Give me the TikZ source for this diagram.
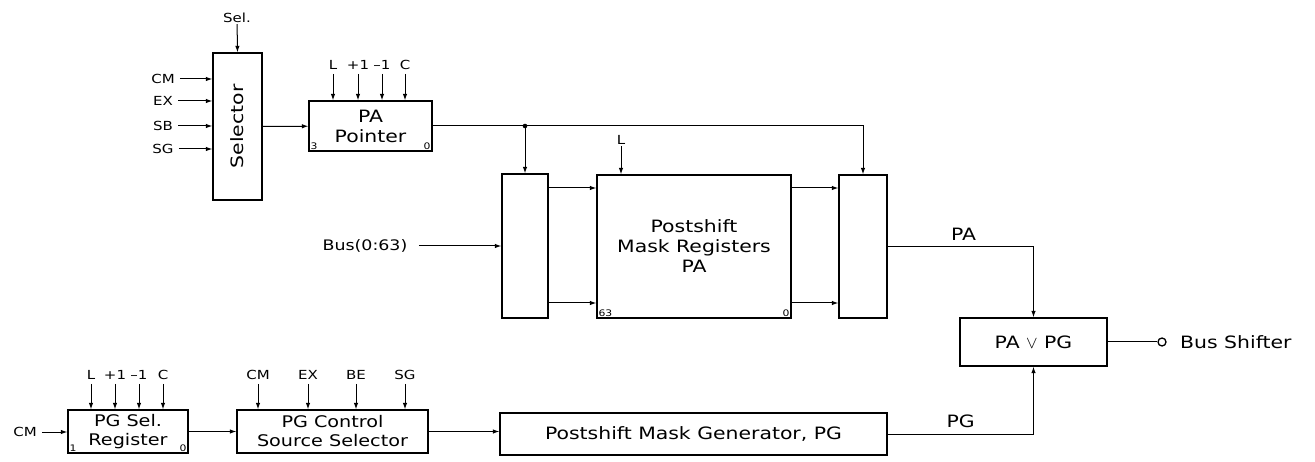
\documentclass[tikz,border=0pt]{standalone}
\usepackage{fontspec}
\setmainfont{DejaVu Sans}[FakeStretch=1.2]
\usetikzlibrary{arrows.meta,positioning,calc}
\begin{document}
\begin{tikzpicture}[x=1pt,y=-1pt,font=\fontsize{17}{20}\selectfont,
  box/.style={draw=black,line width=1.3pt,inner sep=0pt,align=center,fill=white},
  lbl/.style={font=\fontsize{12.5}{15}\selectfont,inner sep=1pt},
  tiny/.style={font=\fontsize{9}{10}\selectfont,inner sep=2pt},
  ar/.style={-{Latex[length=6.5pt,width=4.5pt]},line width=1pt},
  ln/.style={line width=1pt}]
 \useasboundingbox (0,0) rectangle (1315,462);
 \node[box,minimum width=49pt,minimum height=147pt] (sel) at (237.5,126.5) {\rotatebox{90}{Selector}};
 \node[box,minimum width=123pt,minimum height=50pt] (ptr) at (370.5,126) {PA\\Pointer};
 \node[tiny,anchor=south west] (p3) at (ptr.south west) {3};
 \node[tiny,anchor=south east] (p0) at (ptr.south east) {0};
 \node[box,minimum width=46pt,minimum height=144pt] (lmux) at (525,246) {};
 \node[box,minimum width=194pt,minimum height=143pt] (main) at (694,246.5) {Postshift\\Mask Registers\\PA};
 \node[tiny,anchor=south west] (m63) at (main.south west) {63};
 \node[tiny,anchor=south east] (m0) at (main.south east) {0};
 \node[box,minimum width=48pt,minimum height=143pt] (rmux) at (863,246.5) {};
 \node[box,minimum width=147pt,minimum height=48pt] (or) at (1033.5,342) {PA $\vee$ PG};
 \node[circle,draw,line width=1.3pt,inner sep=0pt,minimum size=8pt] (bs) at (1162,342) {};
 \node[anchor=west,inner sep=0pt] (bst) at (1180,342) {Bus Shifter};
 \node[box,minimum width=120pt,minimum height=43pt,font=\fontsize{16}{19}\selectfont] (reg) at (128,431.5) {PG Sel.\\Register};
 \node[tiny,anchor=south west] (r1) at (reg.south west) {1};
 \node[tiny,anchor=south east] (r0) at (reg.south east) {0};
 \node[box,minimum width=191pt,minimum height=43pt,font=\fontsize{16}{19}\selectfont] (ctrl) at (332.5,431.5) {PG Control\\Source Selector};
 \node[box,minimum width=387pt,minimum height=42pt] (gen) at (693.5,434) {Postshift Mask Generator, PG};
 \node[font=\fontsize{14.5}{17}\selectfont] (bus) at (365,246) {Bus(0:63)};
 \node[lbl] (sl) at (237,18) {Sel.};
 \node[lbl] (cm) at (163,79) {CM}; \node[lbl] (ex) at (163,101) {EX};
 \node[lbl] (sb) at (163,126) {SB}; \node[lbl] (sg) at (163,149) {SG};
 \node[lbl] (pl) at (333,65) {L}; \node[lbl] (pp) at (358,65) {+1};
 \node[lbl] (pm) at (382,65) {--1}; \node[lbl] (pc) at (405,65) {C};
 \node[lbl] (ml) at (621,140) {L};
 \node[lbl] (rcm) at (25,432) {CM};
 \node[lbl] (rl) at (91,375) {L}; \node[lbl] (rp) at (115,375) {+1};
 \node[lbl] (rm) at (139,375) {--1}; \node[lbl] (rc) at (163,375) {C};
 \node[lbl] (ccm) at (258,375) {CM}; \node[lbl] (cex) at (308,375) {EX};
 \node[lbl] (cbe) at (356,375) {BE}; \node[lbl] (csg) at (405,375) {SG};
 \coordinate (hi) at (0,188); \coordinate (lo) at (0,303);
 \coordinate (jn) at (lmux.north |- ptr.east);
 \draw[ar] (sl) -- (sel.north);
 \foreach \n in {cm,ex,sb,sg} \draw[ar,shorten <=4pt] (\n.east) -- (\n -| sel.west);
 \foreach \n in {pl,pp,pm,pc} \draw[ar,shorten <=3pt] (\n.south) -- (\n |- ptr.north);
 \foreach \n in {rl,rp,rm,rc} \draw[ar,shorten <=3pt] (\n.south) -- (\n |- reg.north);
 \foreach \n in {ccm,cex,cbe,csg} \draw[ar,shorten <=3pt] (\n.south) -- (\n |- ctrl.north);
 \draw[ar] (ml.south) -- (ml |- main.north);
 \draw[ar] (sel) -- (ptr); \draw[ar] (ptr.east) -| (rmux.north); \draw[ar] (jn) -- (lmux.north);
 \fill (jn) circle (2.3pt);
 \draw[ar,shorten <=8pt] (bus.east) -- (bus.east -| lmux.west);
 \draw[ar] (lmux.east |- hi) -- (main.west |- hi); \draw[ar] (lmux.east |- lo) -- (main.west |- lo);
 \draw[ar] (main.east |- hi) -- (rmux.west |- hi); \draw[ar] (main.east |- lo) -- (rmux.west |- lo);
 \draw[ar] (rmux.east) -| (or.north) node[pos=0.26,above=2pt] {PA};
 \draw[ar] (gen.east) -| (or.south) node[pos=0.25,above=2pt] {PG};
 \draw[ln] (or.east) -- (bs.west);
 \draw[ar,shorten <=4pt] (rcm.east) -- (reg.west |- rcm.east); \draw[ar] (reg) -- (ctrl); \draw[ar] (ctrl.east) -- (gen.west |- ctrl.east);
\end{tikzpicture}
\end{document}
